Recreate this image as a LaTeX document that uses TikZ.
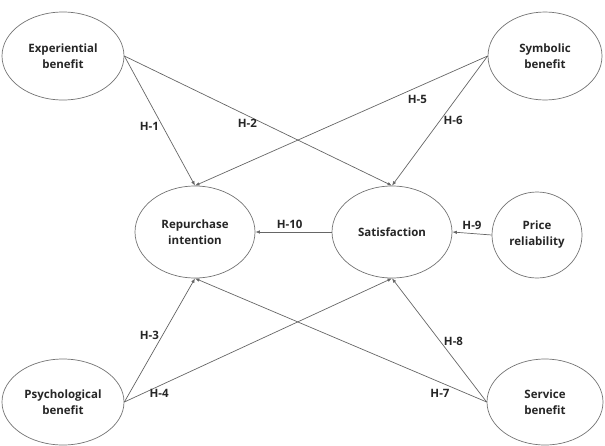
\documentclass[tikz,border=0pt]{standalone}
\usepackage{fontspec}
\setmainfont{Open Sans}
\usetikzlibrary{arrows.meta,shapes.geometric}

\begin{document}
\begin{tikzpicture}[x=1pt,y=-1pt,->,>={Latex[length=4.5pt,width=3.5pt]},auto,
    every node/.style={font=\fontsize{11.5}{16}\selectfont\bfseries,text=black!85},
    var/.style={ellipse,draw=black!55,line width=0.7pt,minimum width=120pt,
      minimum height=90pt,inner sep=0pt,align=center},
    every edge/.style={draw=black!60,line width=0.7pt}]
  \useasboundingbox (0,0) rectangle (605,445);
  % latent variables
  \node[var,minimum width=122pt,minimum height=88pt] (exp) at (63,56) {Experiential\\benefit};
  \node[var,minimum width=114pt,minimum height=88pt] (sym) at (545,56) {Symbolic\\benefit};
  \node[var,minimum height=92pt] (rep) at (195,232) {Repurchase\\intention};
  \node[var,minimum height=92pt] (sat) at (392,232) {Satisfaction};
  \node[var,minimum width=90pt,minimum height=86pt] (pri) at (537,235) {Price\\reliability};
  \node[var,minimum width=122pt,minimum height=86pt] (psy) at (63,402) {Psychological\\benefit};
  \node[var,minimum width=116pt,minimum height=86pt] (ser) at (545,402) {Service\\benefit};
  % hypotheses
  \path (exp.east) edge node[left,pos=0.54] (h1) {H-1} (rep.north)
  (exp.east) edge node[below,pos=0.46] (h2) {H-2} (sat.north)
  (psy.east) edge node[left,pos=0.54] (h3) {H-3} (rep.south)
  (psy.east) edge node[below,pos=0.13] (h4) {H-4} (sat.south)
  (sym.west) edge node[below=4pt,pos=0.24] (h5) {H-5} (rep.north)
  (sym.west) edge node[right,pos=0.5] (h6) {H-6} (sat.north)
  (ser.west) edge node[below=3pt,pos=0.16] (h7) {H-7} (rep.south)
  (ser.west) edge node[right,pos=0.49] (h8) {H-8} (sat.south)
  (pri.west) edge node[above,pos=0.5] (h9) {H-9} (sat.east)
  (sat.west) edge node[above,pos=0.55] (h10) {H-10} (rep.east);
\end{tikzpicture}
\end{document}
